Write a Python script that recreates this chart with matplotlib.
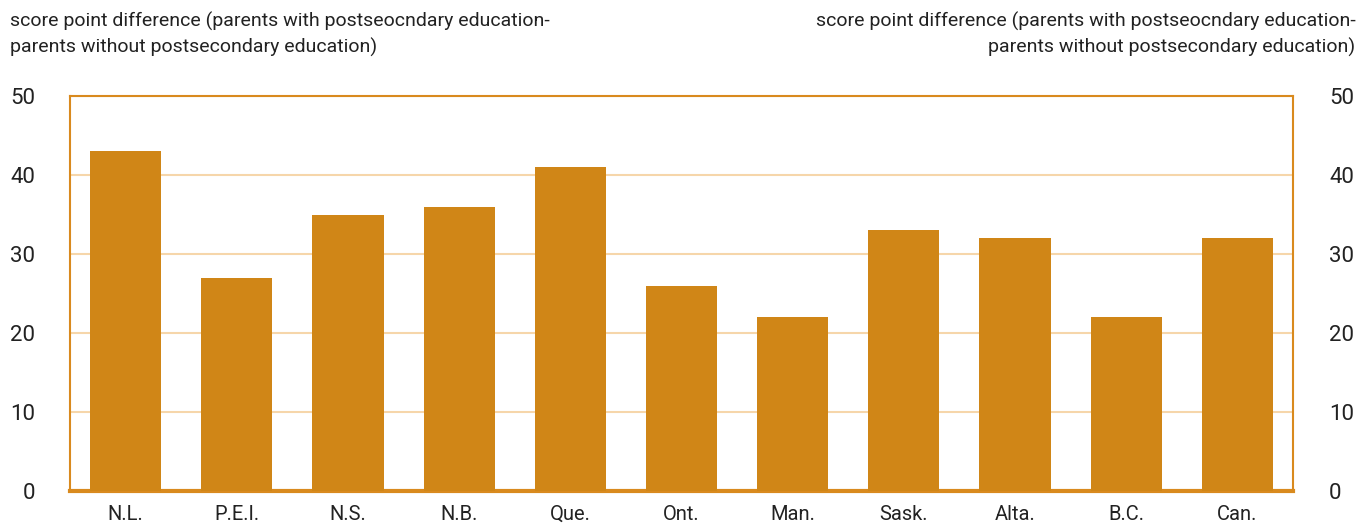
import matplotlib
matplotlib.use("Agg")
import matplotlib.pyplot as plt

# provinces and score point differences
provinces = ["N.L.", "P.E.I.", "N.S.", "N.B.", "Que.", "Ont.", "Man.", "Sask.", "Alta.", "B.C.", "Can."]
diffs = [43, 27, 35, 36, 41, 26, 22, 33, 32, 22, 32]
yticks = [0, 10, 20, 30, 40, 50]

bar_col = "#D08617"
edge_col = "#D98A1E"
grid_col = "#F6D6AA"
txt_col = "#222222"

plt.rcParams["font.family"] = ["Roboto", "DejaVu Sans"]

fig = plt.figure(figsize=(13.69, 5.25), dpi=100)
ax = fig.add_axes([0.0511, 0.0648, 0.8934, 0.7523])

ax.bar(range(len(provinces)), diffs, width=0.64, color=bar_col, zorder=3)
ax.set_xlim(-0.5, len(provinces) - 0.5)
ax.set_ylim(0, 50)
ax.set_yticks(yticks)
ax.yaxis.grid(True, color=grid_col, lw=1.5, zorder=0)

for s in ["top", "left", "right"]:
    ax.spines[s].set_color(edge_col)
    ax.spines[s].set_linewidth(1.5)
ax.spines["bottom"].set_color(edge_col)
ax.spines["bottom"].set_linewidth(3)

ax.set_xticks(range(len(provinces)))
ax.set_xticklabels(provinces, fontsize=14.5, color=txt_col)
ax.tick_params(axis="x", length=0, pad=10)
ax.tick_params(axis="y", length=0, labelsize=16, labelcolor=txt_col, pad=25)

ax2 = ax.twinx()
ax2.set_ylim(0, 50)
ax2.set_yticks(yticks)
ax2.tick_params(axis="y", length=0, labelsize=16, labelcolor=txt_col, pad=26)
for s in ax2.spines.values():
    s.set_visible(False)

title = "score point difference (parents with postseocndary education-\nparents without postsecondary education)"
fig.text(0.007, 0.978, title, ha="left", va="top", fontsize=14, color=txt_col, linespacing=1.45)
fig.text(0.990, 0.978, title, ha="right", va="top", fontsize=14, color=txt_col, linespacing=1.45,
         multialignment="right")

fig.savefig("out.png", dpi=100)
